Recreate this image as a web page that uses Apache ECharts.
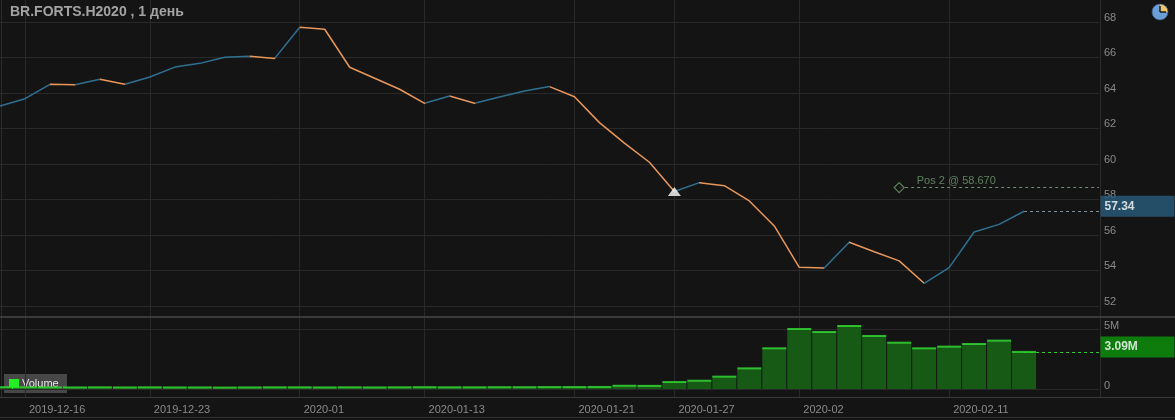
<!DOCTYPE html>
<html><head><meta charset="utf-8">
<script src="https://cdn.jsdelivr.net/npm/echarts@6/dist/echarts.min.js"></script>
<style>html,body{margin:0;padding:0;background:#141414;}#c{width:1175px;height:420px;}</style>
</head><body><div id="c"></div>
<script>
// ---- data ----
const titleText = 'BR.FORTS.H2020 , 1 день';
const categories = ['2019-12-13','2019-12-16','2019-12-17','2019-12-18','2019-12-19','2019-12-20','2019-12-23','2019-12-24','2019-12-25','2019-12-26','2019-12-27','2019-12-30','2020-01-03','2020-01-06','2020-01-08','2020-01-09','2020-01-10','2020-01-13','2020-01-14','2020-01-15','2020-01-16','2020-01-17','2020-01-20','2020-01-21','2020-01-22','2020-01-23','2020-01-24','2020-01-27','2020-01-28','2020-01-29','2020-01-30','2020-01-31','2020-02-03','2020-02-04','2020-02-05','2020-02-06','2020-02-07','2020-02-10','2020-02-11','2020-02-12','2020-02-13','2020-02-14','2020-02-17','2020-02-18','2020-02-19'];
const prices = [63.27,63.68,64.49,64.47,64.77,64.49,64.90,65.46,65.67,66.01,66.07,65.95,67.70,67.59,65.45,64.83,64.21,63.42,63.83,63.42,63.77,64.11,64.36,63.79,62.33,61.18,60.10,58.45,58.95,58.78,57.92,56.51,54.18,54.14,55.59,55.06,54.54,53.28,54.16,56.17,56.60,57.34];
const volumesM = [0.15,0.14,0.13,0.13,0.14,0.13,0.14,0.13,0.13,0.12,0.13,0.14,0.14,0.13,0.14,0.13,0.14,0.15,0.14,0.14,0.15,0.15,0.16,0.16,0.17,0.27,0.26,0.58,0.69,1.03,1.72,3.39,5.00,4.75,5.25,4.42,3.86,3.39,3.53,3.75,4.03,3.09];
const tickDates = ['2019-12-16','2019-12-23','2020-01-03','2020-01-13','2020-01-21','2020-01-27','2020-02-03','2020-02-11'];
const tickLabels = ['2019-12-16','2019-12-23','2020-01','2020-01-13','2020-01-21','2020-01-27','2020-02','2020-02-11'];
const priceMin = 52, priceMax = 68, priceStep = 2;
const volMin = 0, volMax = 5, volStep = 5;
const signalDate = '2020-01-27';
const posDate = '2020-02-07', posNumber = 2, posPrice = 58.670;

// ---- styles ----
const BG = '#141414', GRID = '#292929', LABEL = '#8a8a8a';
const UP = '#2f6f92', DOWN = '#e8965a';
const FONT = 'Liberation Sans, Arial, sans-serif';
const lastIdx = prices.length - 1;
const endCat = categories[categories.length - 1];
const isTick = (i) => tickDates.indexOf(categories[i]) >= 0;

const pieces = [];
for (let i = 0; i < lastIdx; i++) {
  pieces.push({ gte: i, lt: i + 1, color: prices[i + 1] > prices[i] ? UP : DOWN });
}
pieces.push({ gte: lastIdx, lte: categories.length, color: UP });

const tagLabel = (text, bg) => ({
  show: true, position: 'right', distance: 1, offset: [0, -5], formatter: text,
  color: '#ffffff', fontWeight: 'bold', fontSize: 12, fontFamily: FONT,
  backgroundColor: bg, padding: [4, 4, 4, 4], width: 66, lineHeight: 13, align: 'left'
});

const chart = echarts.init(document.getElementById('c'), null, { renderer: 'canvas' });
const commonX = { type: 'category', data: categories, boundaryGap: false };

chart.setOption({
  animation: false,
  backgroundColor: BG,
  title: { text: titleText, left: 5, top: 0, textStyle: { color: '#a3a3a3', fontSize: 14, fontWeight: 'bold', fontFamily: FONT } },
  grid: [
    { left: -1, width: 1100, top: 22, height: 284 },
    { left: -1, width: 1100, top: 329, height: 60 },
    { left: -1, width: 1100, top: 0, height: 397 }
  ],
  xAxis: [
    Object.assign({ gridIndex: 0, show: false }, commonX),
    Object.assign({ gridIndex: 1, axisLine: { show: false }, axisTick: { show: false }, splitLine: { show: false },
      axisLabel: { interval: (i) => isTick(i), formatter: (v) => tickLabels[tickDates.indexOf(v)], color: LABEL, fontSize: 11, fontFamily: FONT, align: 'left', padding: [0, 0, 0, 4], margin: 15 } }, commonX),
    Object.assign({ gridIndex: 2, axisLine: { show: false }, axisTick: { show: false }, axisLabel: { show: false },
      splitLine: { show: true, interval: (i) => isTick(i), lineStyle: { color: GRID, width: 1 } } }, commonX)
  ],
  yAxis: [
    { gridIndex: 0, type: 'value', position: 'right', min: priceMin, max: priceMax, interval: priceStep,
      axisLine: { show: false }, axisTick: { show: false },
      splitLine: { lineStyle: { color: GRID } },
      axisLabel: { color: LABEL, fontSize: 11, margin: 5, fontFamily: FONT, verticalAlign: 'bottom', lineHeight: 9 } },
    { gridIndex: 1, type: 'value', position: 'right', min: volMin, max: volMax, interval: volStep,
      axisLine: { show: false }, axisTick: { show: false },
      splitLine: { lineStyle: { color: GRID } },
      axisLabel: { color: LABEL, fontSize: 11, margin: 5, fontFamily: FONT, verticalAlign: 'bottom', lineHeight: 6, formatter: (v) => v === 0 ? '0' : v + 'M' } },
    { gridIndex: 2, type: 'value', show: false, min: 0, max: 1 }
  ],
  visualMap: { type: 'piecewise', show: false, seriesIndex: 0, dimension: 0, pieces: pieces },
  series: [
    { type: 'line', xAxisIndex: 0, yAxisIndex: 0, data: prices, showSymbol: false, lineStyle: { width: 1.5 }, z: 3 },
    { type: 'scatter', xAxisIndex: 0, yAxisIndex: 0, symbol: 'triangle', symbolSize: [13, 9], z: 5,
      itemStyle: { color: '#ffffff' },
      data: [[signalDate, prices[categories.indexOf(signalDate)]]],
      markLine: { silent: true, symbol: 'none',
        lineStyle: { color: '#7f8e98', type: [3, 3], width: 1 }, label: { show: false },
        data: [[{ coord: [categories[lastIdx], prices[lastIdx]] }, { coord: [endCat, prices[lastIdx]] }]] } },
    { type: 'scatter', xAxisIndex: 0, yAxisIndex: 0, symbol: 'diamond', symbolSize: 10, z: 6,
      itemStyle: { color: BG, borderColor: '#6f9c6f', borderWidth: 1.2 },
      label: { show: true, position: 'right', offset: [7, -7], formatter: 'Pos ' + posNumber + ' @ ' + posPrice.toFixed(3),
        color: '#6f9c6f', fontSize: 11, fontFamily: FONT },
      data: [[posDate, posPrice]],
      markLine: { silent: true, symbol: 'none', z: 4,
        lineStyle: { color: '#6f8a6f', type: [3, 3], width: 1 }, label: { show: false },
        data: [[{ coord: [posDate, posPrice] }, { coord: [endCat, posPrice] }]] } },
    { type: 'scatter', xAxisIndex: 0, yAxisIndex: 0, symbol: 'circle', symbolSize: 1, clip: false, z: 8,
      itemStyle: { color: 'rgba(0,0,0,0)' },
      label: tagLabel(prices[lastIdx].toFixed(2), '#285b7d'),
      data: [[endCat, prices[lastIdx]]] },
    { type: 'bar', xAxisIndex: 1, yAxisIndex: 1, data: volumesM, barWidth: 24, clip: false,
      itemStyle: { color: '#165a16' }, z: 2 },
    { type: 'scatter', xAxisIndex: 1, yAxisIndex: 1, symbol: 'rect', symbolSize: [24, 2], clip: false, z: 3,
      itemStyle: { color: '#35e035' },
      data: volumesM.map((v, i) => [categories[i], v]),
      markLine: { silent: true, symbol: 'none',
        lineStyle: { color: '#2ed12e', type: [3, 3], width: 1 }, label: { show: false },
        data: [[{ coord: [categories[lastIdx], volumesM[lastIdx]] }, { coord: [endCat, volumesM[lastIdx]] }]] } },
    { type: 'scatter', xAxisIndex: 1, yAxisIndex: 1, symbol: 'circle', symbolSize: 1, clip: false, z: 8,
      itemStyle: { color: 'rgba(0,0,0,0)' },
      label: tagLabel(volumesM[lastIdx].toFixed(2) + 'M', '#0b960b'),
      data: [[endCat, volumesM[lastIdx]]] }
  ],
  graphic: [
    { type: 'rect', shape: { x: 0, y: 316, width: 1175, height: 2 }, style: { fill: '#3a3a3a' }, silent: true, z: 10 },
    { type: 'rect', shape: { x: 0, y: 397, width: 1175, height: 1 }, style: { fill: '#3a3a3a' }, silent: true, z: 10 },
    { type: 'rect', shape: { x: 0, y: 417, width: 1175, height: 1 }, style: { fill: '#333333' }, silent: true, z: 10 },
    { type: 'rect', shape: { x: 1100, y: 0, width: 1, height: 397 }, style: { fill: '#2c2c2c' }, silent: true, z: 1 },
    { type: 'rect', shape: { x: 1, y: 0, width: 1, height: 397 }, style: { fill: '#2c2c2c' }, silent: true, z: 1 },
    { type: 'group', x: 4, y: 374, z: 20, children: [
      { type: 'rect', shape: { x: 0, y: 0, width: 63, height: 19 }, style: { fill: '#474747' } },
      { type: 'rect', shape: { x: 5, y: 5, width: 10, height: 10 }, style: { fill: '#22ee22' } },
      { type: 'text', x: 18, y: 10, style: { text: 'Volume', fill: '#e6e6e6', fontSize: 11, fontFamily: FONT, verticalAlign: 'middle' } }
    ] },
    { type: 'group', x: 1160, y: 12, z: 20, children: [
      { type: 'circle', shape: { cx: 0, cy: 0, r: 8 }, style: { fill: '#6b9fd8' } },
      { type: 'sector', shape: { cx: 0, cy: 0, r: 8, startAngle: -Math.PI / 2, endAngle: 0 }, style: { fill: '#f2c46a' } },
      { type: 'line', shape: { x1: 0, y1: 0, x2: 0, y2: -6 }, style: { stroke: '#1a1a1a', lineWidth: 1.5 } },
      { type: 'line', shape: { x1: 0, y1: 0, x2: 6, y2: 0 }, style: { stroke: '#1a1a1a', lineWidth: 1.5 } },
      { type: 'circle', shape: { cx: 0, cy: 0, r: 8 }, style: { fill: 'none', stroke: '#3a5a80', lineWidth: 0.8 } }
    ] }
  ]
});
</script></body></html>
